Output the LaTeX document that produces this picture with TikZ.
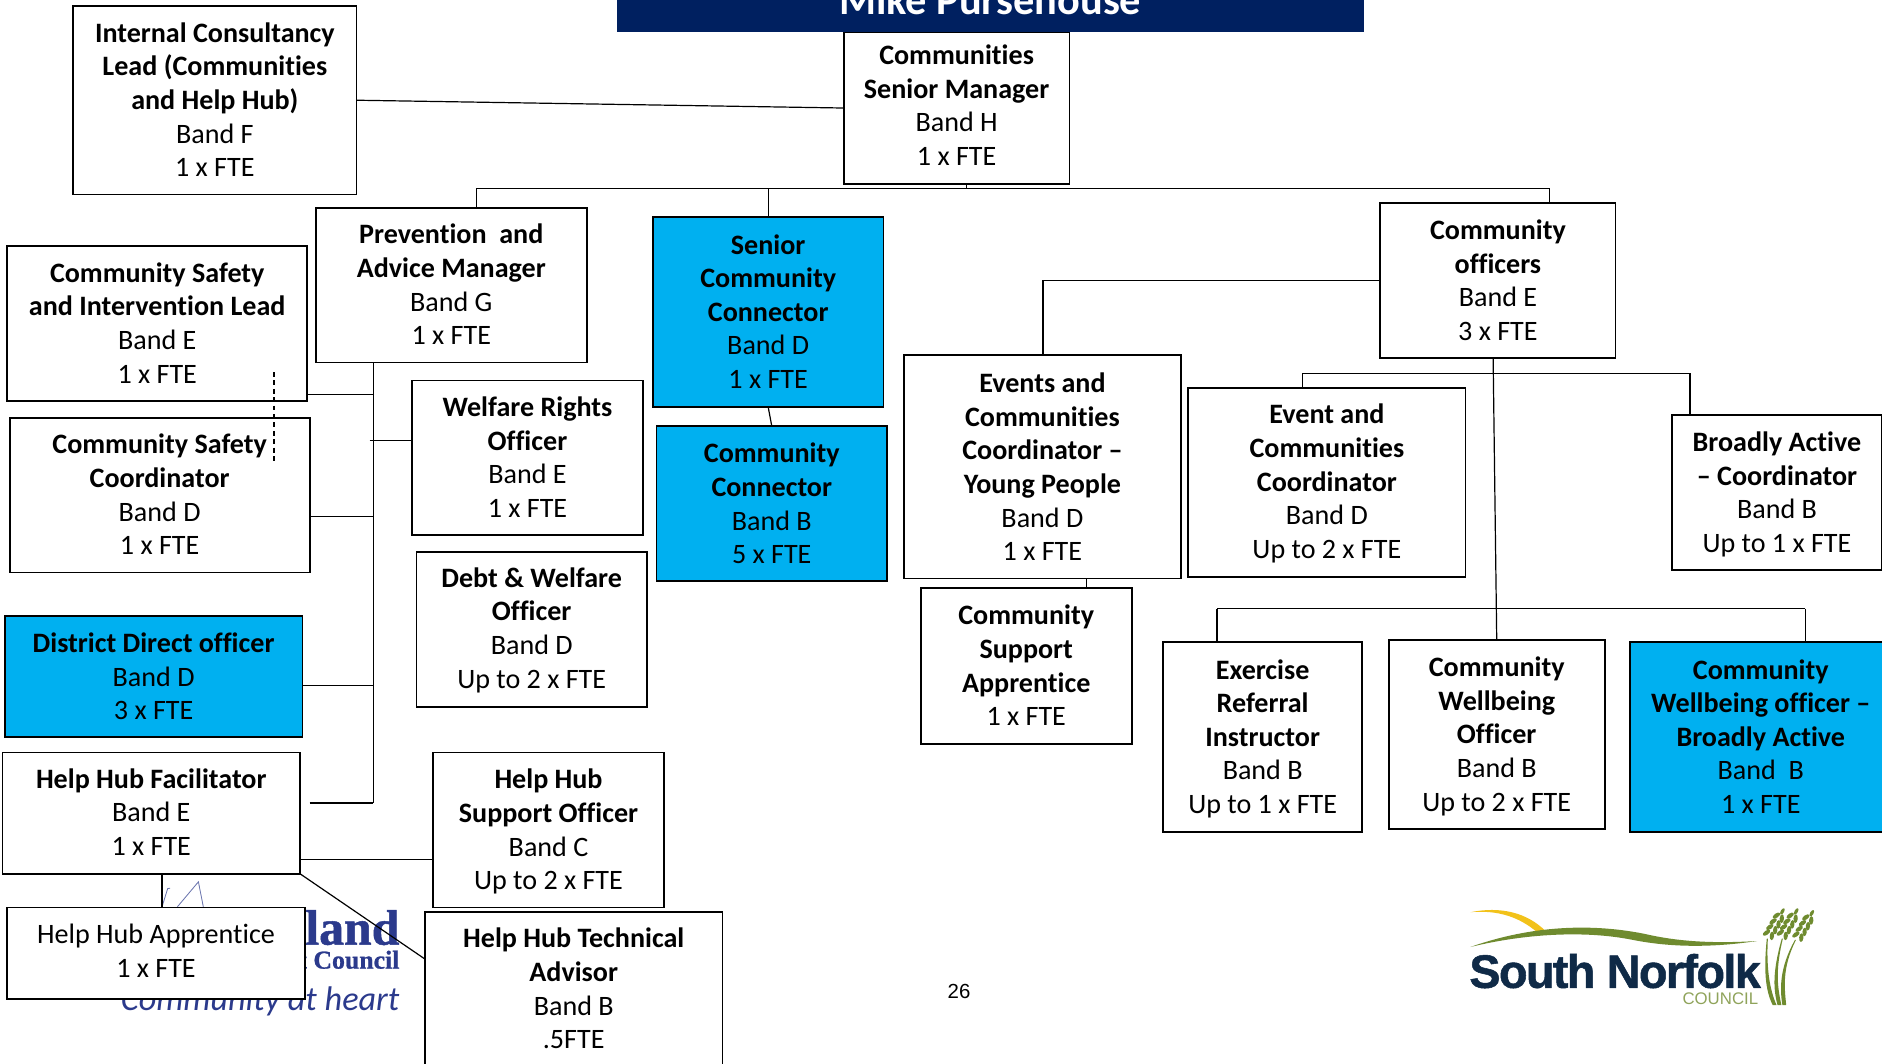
\documentclass[tikz,border=0pt]{standalone}
\usepackage{fontspec}
\setmainfont[RawFeature={-liga}]{Carlito}
\newfontfamily\logosans[FakeBold=1.1]{Liberation Sans Bold}
\newfontfamily\logosub{Liberation Sans}
\newfontfamily\logoserif[FakeBold=1]{Liberation Serif Bold}
\newfontfamily\logoitalic{Carlito Italic}
\newfontfamily\pagefont{Liberation Sans}
\usetikzlibrary{backgrounds}
\definecolor{navytitle}{HTML}{002060}
\definecolor{skyfill}{HTML}{00B0F0}
\definecolor{snnavy}{HTML}{0F2A47}
\definecolor{sngreen}{HTML}{6F8B2F}
\definecolor{snsoft}{HTML}{8FA35A}
\definecolor{snyellow}{HTML}{F2C21A}
\definecolor{bdblue}{HTML}{2B3A8C}
\tikzset{
  orgbox/.style={draw=black,line width=1.5pt,fill=white,align=center,inner sep=0pt,outer sep=0pt,text depth=0pt,
    font=\fontsize{23.4}{28}\selectfont},
  bluebox/.style={orgbox,fill=skyfill},
  wire/.style={draw=black,line width=1pt},
  grain/.style={fill=sngreen,draw=none},
}
\begin{document}
\begin{tikzpicture}[x=1pt,y=-1pt]
\useasboundingbox (0,0) rectangle (1568,886);
% title
\node[fill=navytitle,minimum width=622pt,minimum height=54pt,inner sep=0pt,outer sep=0pt,text=white,
  font=\fontsize{35.3}{36}\selectfont\bfseries] (title) at (825,0) {\raisebox{-11pt}{Mike Pursehouse}};
% boxes
\node[orgbox,text depth=1pt,minimum width=236pt,minimum height=157pt] (icl) at (179,83.5) {\textbf{Internal Consultancy}\\\textbf{Lead (Communities}\\\textbf{and Help Hub)}\\Band F\\1 x FTE};
\node[orgbox,text depth=5pt,minimum width=188pt,minimum height=126pt] (csm) at (797,90) {\textbf{Communities}\\\textbf{Senior Manager}\\Band H\\1 x FTE};
\node[orgbox,text depth=1pt,minimum width=226pt,minimum height=129pt] (prev) at (376,237.5) {\textbf{Prevention\ \ and}\\\textbf{Advice Manager}\\Band G\\1 x FTE};
\node[orgbox,text depth=1pt,minimum width=250pt,minimum height=129pt] (lead) at (131,269.5) {\textbf{Community Safety}\\\textbf{and Intervention Lead}\\Band E\\1 x FTE};
\node[orgbox,text depth=1pt,minimum width=250pt,minimum height=129pt] (coord) at (133,412.5) {\textbf{Community Safety}\\\textbf{Coordinator}\\Band D\\1 x FTE};
\node[orgbox,text depth=1pt,minimum width=193pt,minimum height=129pt] (welfare) at (439.5,381.5) {\textbf{Welfare Rights}\\\textbf{Officer}\\Band E\\1 x FTE};
\node[orgbox,text depth=3pt,minimum width=192pt,minimum height=129pt] (debt) at (443,524.5) {\textbf{Debt \& Welfare}\\\textbf{Officer}\\Band D\\Up to 2 x FTE};
\node[bluebox,minimum width=248pt,minimum height=101pt] (district) at (128,563.5) {\textbf{District Direct officer}\\Band D\\3 x FTE};
\node[orgbox,text depth=2pt,minimum width=248pt,minimum height=101pt] (facil) at (126,677.5) {\textbf{Help Hub Facilitator}\\Band E\\1 x FTE};
\node[orgbox,text depth=1pt,minimum width=192pt,minimum height=129pt] (support) at (457,691.5) {\textbf{Help Hub}\\\textbf{Support Officer}\\Band C\\Up to 2 x FTE};
\node[orgbox,text depth=4pt,minimum width=248pt,minimum height=76pt] (apprentice) at (130,794) {Help Hub Apprentice\\1 x FTE};
\node[orgbox,text depth=3pt,minimum width=248pt,minimum height=130pt] (tech) at (478,825) {\textbf{Help Hub Technical}\\\textbf{Advisor}\\Band B\\.5FTE};
\node[bluebox,text depth=1pt,minimum width=192pt,minimum height=158pt] (senior) at (640,260) {\textbf{Senior}\\\textbf{Community}\\\textbf{Connector}\\Band D\\1 x FTE};
\node[bluebox,minimum width=192pt,minimum height=129pt] (connector) at (643,419.5) {\textbf{Community}\\\textbf{Connector}\\Band B\\5 x FTE};
\node[orgbox,minimum width=196pt,minimum height=129pt] (officers) at (1248,233.5) {\textbf{Community}\\\textbf{officers}\\Band E\\3 x FTE};
\node[orgbox,minimum width=231pt,minimum height=186pt] (young) at (868.5,389) {\textbf{Events and}\\\textbf{Communities}\\\textbf{Coordinator --}\\\textbf{Young People}\\Band D\\1 x FTE};
\node[orgbox,text depth=2pt,minimum width=231pt,minimum height=158pt] (event) at (1105.5,402) {\textbf{Event and}\\\textbf{Communities}\\\textbf{Coordinator}\\Band D\\Up to 2 x FTE};
\node[orgbox,text depth=1pt,minimum width=175pt,minimum height=129pt] (broadly) at (1480.5,410.5) {\textbf{Broadly Active}\\\textbf{-- Coordinator}\\Band B\\Up to 1 x FTE};
\node[orgbox,text depth=1pt,minimum width=176pt,minimum height=130pt] (csa) at (855,555) {\textbf{Community}\\\textbf{Support}\\\textbf{Apprentice}\\1 x FTE};
\node[orgbox,text depth=1pt,minimum width=166pt,minimum height=158pt] (exercise) at (1052,614) {\textbf{Exercise}\\\textbf{Referral}\\\textbf{Instructor}\\Band B\\Up to 1 x FTE};
\node[orgbox,text depth=1pt,minimum width=180pt,minimum height=158pt] (wellbeing) at (1247,612) {\textbf{Community}\\\textbf{Wellbeing}\\\textbf{Officer}\\Band B\\Up to 2 x FTE};
\node[bluebox,text depth=1pt,minimum width=218pt,minimum height=158pt] (wellba) at (1467,614) {\textbf{Community}\\\textbf{Wellbeing officer --}\\\textbf{Broadly Active}\\Band\ \ B\\1 x FTE};
\node[font=\pagefont\fontsize{17}{18}\selectfont,inner sep=0pt] (pagenum) at (799,826) {26};
% South Norfolk logo text
\node[font=\logosans\fontsize{39}{40}\selectfont,text=snnavy,anchor=base west,inner sep=0pt] (snname) at (1224,823) {\addfontfeature{LetterSpace=-3.5}South Norfolk};
\begin{scope}[on background layer]
  % Broadland logo fragments
  \node[font=\logoserif\fontsize{41.5}{42}\selectfont,text=bdblue,anchor=base east,inner sep=0pt] (bdname) at (333,787) {land};
  \node[font=\logoserif\fontsize{21.5}{22}\selectfont,text=bdblue,anchor=base east,inner sep=0pt] (bdsub) at (333,807) {t Council};
  \node[font=\logoitalic\fontsize{28.5}{30}\selectfont,text=bdblue,anchor=base east,inner sep=0pt] (bdmotto) at (333,842) {Community at heart};
  \draw[bdblue!70,line width=.7pt] (135,755.5) -- (139.7,740.3) -- (141.7,740) (147.8,755.5) -- (165.3,734.7) -- (169.4,755.5);
  % South Norfolk logo artwork
  \fill[snyellow] (1225,760) .. controls (1250,755) and (1272,760) .. (1288,776) -- (1281,777) .. controls (1266,764) and (1248,758) .. (1225,760) -- cycle;
  \fill[sngreen] (1225,789) .. controls (1270,773) and (1320,768) .. (1370,778) .. controls (1400,785) and (1430,786) .. (1464,784) .. controls (1430,789) and (1395,790) .. (1360,783) .. controls (1320,775) and (1270,778) .. (1225,789) -- cycle;
  \node[font=\logosub\fontsize{14}{15}\selectfont,text=snsoft,anchor=base east,inner sep=0pt] (snsub) at (1465,837) {COUNCIL};
  % wheat stems
  \foreach \tx/\ty/\mx/\my/\bx in {1472/782/1469.5/807/1477, 1484.5/782/1476.5/810/1481, 1495.5/783/1482/807/1485}{
    \fill[sngreen] (\tx,\ty) .. controls (\mx,\my) and (\mx+1,825) .. (\bx,837.5) -- (\bx+3.2,837.5) .. controls (\mx+5,825) and (\mx+2,\my) .. (\tx+.9,\ty) -- cycle;
  }
  % wheat ears
  \foreach \ex/\ey in {1472.5/781, 1484/781, 1497/782.5}{
    \begin{scope}[shift={(\ex,\ey)},rotate=60]
      \foreach \t in {3,8.5,14,19.5}{
        \fill[grain] (\t,2.6) ellipse[x radius=3.6pt,y radius=1.8pt,rotate=25];
        \fill[grain] (\t,-2.6) ellipse[x radius=3.6pt,y radius=1.8pt,rotate=-25];
      }
      \fill[grain] (25,0) ellipse[x radius=3pt,y radius=1.4pt];
    \end{scope}
  }
  % connectors
  \coordinate (busa) at (397,157);
  \coordinate (busb) at (640,157);
  \coordinate (busc) at (1291,157);
  \coordinate (busd) at (805,157);
  \coordinate (spinetop) at (311,302);
  \coordinate (spinebot) at (311,669);
  \coordinate (youngtop) at (869,296);
  \coordinate (rowa) at (1085,311);
  \coordinate (rowb) at (1408,311);
  \coordinate (rowc) at (1014,507);
  \coordinate (rowd) at (1504,507);
  \draw[wire] (icl.east) -- (csm.west);
  \draw[wire] (csm.south -| busd) -- (busd);
  \draw[wire,line width=1.3pt] (busa) -- (busc);
  \draw[wire] (busa) -- (busa |- prev.north);
  \draw[wire] (busb) -- (senior.north);
  \draw[wire] (busc) -- (busc |- officers.north);
  \draw[wire] (senior.south) -- (connector.north);
  \draw[wire] (officers.west) -| (youngtop);
  \draw[wire] (905,482) -- (905,490);
  \draw[wire] (1244,298) -- (wellbeing.north);
  \draw[wire] (rowa) -- (rowb);
  \draw[wire] (rowa) -- (rowa |- event.north);
  \draw[wire] (rowb) -- (rowb |- broadly.north);
  \draw[wire] (rowc) -- (rowd);
  \draw[wire] (rowc) -- (rowc |- exercise.north);
  \draw[wire] (rowd) -- (rowd |- wellba.north);
  \draw[wire] (spinetop) -- (spinebot);
  \draw[wire] (lead.south east |- 0,329) -- (311,329);
  \draw[wire] (308,367) -- (welfare.west |- 0,367);
  \draw[wire] (coord.east |- 0,430) -- (311,430);
  \draw[wire] (district.east |- 0,571) -- (311,571);
  \draw[wire] (258,669) -- (spinebot);
  \draw[wire] (facil.east |- 0,716) -- (support.west |- 0,716);
  \draw[wire] (facil.south east) -- (354,799);
  \draw[wire] (135,728) -- (135,756);
\end{scope}
\draw[black,line width=1.4pt,dash pattern=on 4pt off 3pt] (228,310) -- (228,385);
\end{tikzpicture}
\end{document}
